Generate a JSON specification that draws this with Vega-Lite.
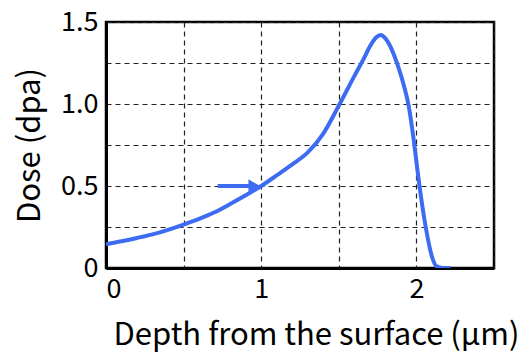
{
  "$schema": "https://vega.github.io/schema/vega-lite/v6.json",
  "autosize": "none",
  "width": 388,
  "height": 246,
  "padding": {"left": 106, "top": 22, "right": 36, "bottom": 86},
  "background": "white",
  "config": {
    "font": "Noto Sans CJK JP",
    "view": {"stroke": "black", "strokeWidth": 2.5}
  },
  "datasets": {
    "curve": [
      {"depth": 0, "dose": 0.145},
      {"depth": 0.1, "dose": 0.163},
      {"depth": 0.2, "dose": 0.183},
      {"depth": 0.3, "dose": 0.205},
      {"depth": 0.4, "dose": 0.233},
      {"depth": 0.5, "dose": 0.265},
      {"depth": 0.6, "dose": 0.3},
      {"depth": 0.7, "dose": 0.34},
      {"depth": 0.8, "dose": 0.39},
      {"depth": 0.9, "dose": 0.443},
      {"depth": 1.0, "dose": 0.5},
      {"depth": 1.1, "dose": 0.565},
      {"depth": 1.2, "dose": 0.632},
      {"depth": 1.3, "dose": 0.705},
      {"depth": 1.4, "dose": 0.82},
      {"depth": 1.5, "dose": 0.99},
      {"depth": 1.6, "dose": 1.17},
      {"depth": 1.66, "dose": 1.275},
      {"depth": 1.7, "dose": 1.35},
      {"depth": 1.74, "dose": 1.405},
      {"depth": 1.77, "dose": 1.42},
      {"depth": 1.8, "dose": 1.40},
      {"depth": 1.84, "dose": 1.335},
      {"depth": 1.88, "dose": 1.235},
      {"depth": 1.92, "dose": 1.11},
      {"depth": 1.95, "dose": 0.99},
      {"depth": 1.98, "dose": 0.8},
      {"depth": 2.0, "dose": 0.65},
      {"depth": 2.02, "dose": 0.5},
      {"depth": 2.06, "dose": 0.25},
      {"depth": 2.1, "dose": 0.07},
      {"depth": 2.13, "dose": 0.01},
      {"depth": 2.17, "dose": 0.0},
      {"depth": 2.22, "dose": 0.0}
    ],
    "arrow": [
      {"x": 0.72, "x2": 0.93, "y": 0.5, "tip": 0.955}
    ]
  },
  "layer": [
    {
      "data": {"name": "curve"},
      "mark": {"type": "line", "color": "#3d6cf2", "strokeWidth": 4, "interpolate": "monotone", "clip": true},
      "encoding": {
        "x": {
          "field": "depth", "type": "quantitative",
          "scale": {"domain": [0, 2.5], "nice": false},
          "axis": {
            "title": "Depth from the surface (μm)",
            "titleFontSize": 31, "titleFontWeight": "normal", "titleColor": "black", "titlePadding": 18,
            "titleX": 210,
            "values": [0, 0.5, 1, 1.5, 2, 2.5],
            "labelExpr": "datum.value == 0 || datum.value == 1 || datum.value == 2 ? format(datum.value, 'd') : ''",
            "labelFontSize": 27, "labelColor": "black", "labelPadding": 8,
            "ticks": false, "domain": true, "domainColor": "black", "domainWidth": 3,
            "grid": true, "gridColor": "#222", "gridDash": [5, 4], "gridWidth": 1.2
          }
        },
        "y": {
          "field": "dose", "type": "quantitative",
          "scale": {"domain": [0, 1.5], "nice": false},
          "axis": {
            "title": "Dose (dpa)",
            "titleFontSize": 31, "titleFontWeight": "normal", "titleColor": "black", "titlePadding": 14,
            "values": [0, 0.25, 0.5, 0.75, 1, 1.25, 1.5],
            "labelExpr": "datum.value == 0 ? '0' : (datum.value == 0.5 || datum.value == 1 || datum.value == 1.5 ? format(datum.value, '.1f') : '')",
            "labelFontSize": 27, "labelColor": "black", "labelPadding": 8,
            "ticks": false, "domain": true, "domainColor": "black", "domainWidth": 3,
            "grid": true, "gridColor": "#222", "gridDash": [5, 4], "gridWidth": 1.2
          }
        }
      }
    },
    {
      "data": {"name": "arrow"},
      "mark": {"type": "rule", "color": "#3d6cf2", "strokeWidth": 4},
      "encoding": {
        "x": {"field": "x", "type": "quantitative"},
        "x2": {"field": "x2"},
        "y": {"field": "y", "type": "quantitative"}
      }
    },
    {
      "data": {"name": "arrow"},
      "mark": {"type": "point", "shape": "triangle-right", "filled": true, "color": "#3d6cf2", "size": 180, "opacity": 1},
      "encoding": {
        "x": {"field": "tip", "type": "quantitative"},
        "y": {"field": "y", "type": "quantitative"}
      }
    }
  ]
}
